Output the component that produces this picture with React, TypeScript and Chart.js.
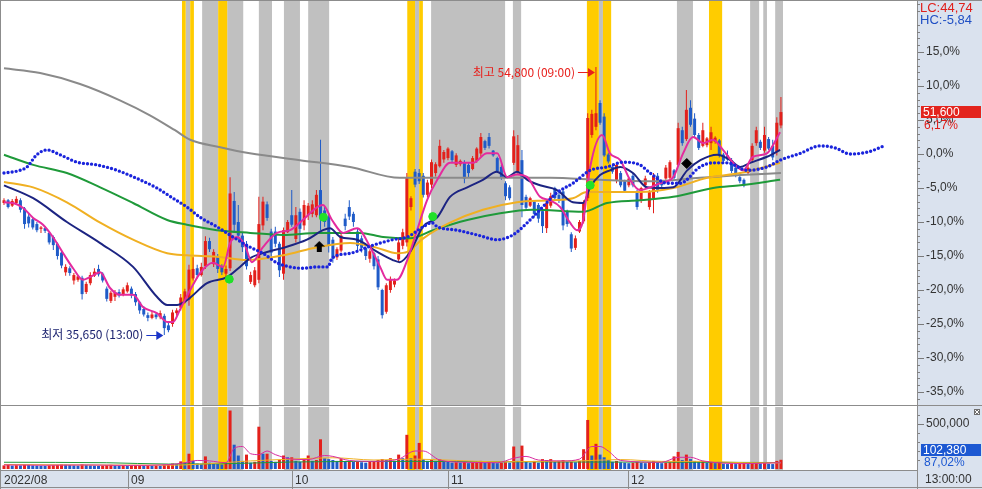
import React, { useEffect, useRef } from 'react';
import { Chart, registerables } from 'chart.js';

Chart.register(...registerables);

// ---------- DATA ----------
// candles: [open, high, low, close] in % versus the base price
const candles: number[][] = [
  [-7.2, -6.5, -7.5, -6.8], [-6.8, -6.6, -8.0, -7.8], [-7.6, -6.6, -7.8, -6.9], [-7.2, -6.2, -7.4, -6.6],
  [-6.8, -6.5, -8.6, -8.2], [-8.0, -7.8, -11.0, -10.3], [-9.2, -8.8, -10.8, -10.2], [-9.6, -9.3, -11.1, -10.8],
  [-10.3, -10.0, -11.5, -11.2], [-11.0, -10.6, -11.6, -10.8], [-10.9, -10.6, -11.6, -11.3], [-11.6, -11.4, -13.3, -13.0],
  [-12.2, -12.0, -14.1, -13.4], [-13.2, -13.0, -15.5, -15.0], [-14.5, -14.2, -16.8, -16.4], [-17.4, -16.2, -17.9, -16.6],
  [-16.8, -16.5, -17.9, -17.5], [-18.6, -17.5, -19.2, -17.8], [-18.5, -17.8, -18.8, -18.0], [-18.2, -17.9, -21.4, -20.6],
  [-20.3, -18.8, -20.6, -19.1], [-19.0, -17.4, -19.3, -17.8], [-17.9, -16.8, -18.1, -17.3], [-16.9, -16.3, -18.0, -17.7],
  [-17.6, -17.4, -18.9, -18.6], [-19.8, -19.5, -21.7, -21.3], [-21.6, -20.1, -21.9, -20.4], [-21.0, -20.0, -21.6, -20.3],
  [-20.3, -19.9, -21.1, -20.8], [-20.6, -19.6, -20.9, -19.9], [-20.2, -18.9, -20.4, -19.3], [-19.8, -19.5, -21.2, -20.8],
  [-20.6, -20.3, -22.3, -21.8], [-21.8, -21.6, -23.5, -23.0], [-22.8, -22.4, -23.9, -23.6], [-23.7, -23.3, -24.6, -24.1],
  [-24.1, -23.1, -24.3, -23.6], [-23.6, -23.3, -24.3, -24.0], [-24.0, -23.0, -24.3, -23.4], [-23.8, -23.5, -26.6, -25.6],
  [-25.2, -24.8, -26.2, -25.9], [-25.0, -22.9, -25.4, -23.3], [-23.4, -22.7, -23.8, -23.0], [-22.6, -20.6, -23.0, -21.1],
  [-21.8, -19.8, -22.0, -20.2], [-21.4, -16.3, -22.3, -17.0], [-18.3, -15.2, -18.6, -16.9], [-16.8, -16.3, -18.3, -17.8],
  [-17.8, -16.0, -18.0, -16.6], [-16.5, -12.1, -16.9, -12.8], [-12.8, -12.3, -14.4, -14.0], [-16.2, -14.0, -16.6, -14.4],
  [-15.0, -14.7, -17.5, -16.9], [-16.6, -16.2, -17.8, -17.4], [-17.6, -16.4, -18.1, -16.9], [-16.8, -3.4, -17.2, -5.8],
  [-6.9, -5.6, -11.4, -10.4], [-10.0, -7.5, -12.6, -12.0], [-12.0, -11.6, -14.4, -13.7], [-13.5, -12.8, -17.0, -16.5],
  [-18.8, -17.3, -19.1, -17.8], [-19.3, -16.6, -19.6, -17.1], [-18.5, -6.3, -19.0, -10.3], [-10.5, -6.3, -11.2, -7.0],
  [-7.4, -7.0, -9.8, -9.4], [-11.4, -11.0, -15.1, -14.5], [-11.4, -10.7, -13.7, -13.2], [-13.2, -12.9, -18.1, -17.1],
  [-17.6, -10.8, -18.5, -11.2], [-11.5, -9.7, -11.6, -10.0], [-9.0, -5.3, -10.7, -10.4], [-12.5, -7.8, -13.0, -9.0],
  [-8.5, -8.0, -13.0, -11.0], [-10.5, -6.8, -11.2, -7.5], [-9.0, -7.2, -9.7, -7.6], [-8.8, -6.8, -9.3, -7.4],
  [-9.0, -5.3, -9.3, -6.0], [-5.3, 2.1, -11.2, -9.2], [-8.3, -7.8, -10.7, -10.0], [-9.2, -8.7, -14.5, -13.5],
  [-12.6, -12.2, -16.0, -15.4], [-15.2, -13.7, -15.6, -14.0], [-14.2, -11.6, -14.5, -12.0], [-9.5, -8.8, -11.2, -10.6],
  [-7.8, -6.8, -9.7, -9.2], [-8.8, -8.5, -10.7, -10.0], [-11.4, -11.0, -14.4, -13.5], [-12.4, -12.0, -14.5, -13.8],
  [-13.8, -13.6, -15.6, -15.0], [-15.4, -14.0, -16.0, -14.3], [-14.6, -14.4, -17.0, -16.5], [-15.5, -15.0, -20.0, -19.6],
  [-20.0, -19.8, -24.2, -23.7], [-23.2, -19.0, -23.5, -19.3], [-20.0, -18.0, -20.4, -18.5], [-19.2, -18.3, -19.6, -18.6],
  [-15.5, -12.5, -15.8, -13.0], [-13.5, -11.0, -14.0, -11.5], [-13.0, -2.8, -13.6, -3.5], [-7.8, -6.2, -8.3, -6.5],
  [-2.6, -2.2, -4.9, -4.5], [-2.8, -2.2, -4.4, -4.0], [-3.2, -2.8, -6.4, -6.0], [-6.0, -3.8, -6.4, -4.2],
  [-4.5, -0.8, -5.0, -1.2], [-2.8, -1.2, -3.3, -1.5], [-1.8, 2.1, -2.0, 1.2], [-0.8, 0.6, -1.3, 0.3],
  [-0.6, 1.0, -0.9, 0.8], [0.4, 0.6, -1.3, -0.9], [-1.6, 0.1, -1.9, -0.2], [-1.5, -0.8, -1.8, -1.0],
  [-1.2, -0.9, -4.3, -3.6], [-1.6, -1.3, -3.4, -2.8], [-2.2, -0.3, -2.4, -0.6], [-1.0, 1.0, -1.3, 0.8],
  [0.0, 3.1, -0.4, 2.5], [1.9, 2.1, 0.6, 0.9], [2.5, 3.1, 0.8, 1.2], [0.5, 0.6, -0.4, -0.2],
  [-0.6, -0.4, -2.8, -2.5], [-1.9, -1.6, -3.8, -3.4], [-4.3, -4.0, -6.8, -6.2], [-4.9, -4.6, -6.8, -6.5],
  [-1.3, 3.5, -1.6, 2.6], [-2.6, 2.8, -2.9, 1.3], [-0.9, 0.6, -9.3, -7.5], [-6.3, -6.0, -8.2, -7.9],
  [-7.6, -6.3, -7.8, -6.5], [-7.0, -6.8, -9.3, -8.8], [-7.5, -7.2, -10.1, -9.5], [-8.4, -8.2, -11.6, -10.6],
  [-10.9, -6.8, -11.6, -7.2], [-7.6, -5.7, -7.9, -6.2], [-5.0, -4.8, -6.8, -6.5], [-6.0, -5.7, -7.2, -6.9],
  [-5.5, -5.3, -11.2, -10.5], [-8.5, -8.2, -10.7, -10.3], [-11.8, -11.5, -14.4, -13.9], [-13.8, -12.0, -14.1, -12.4],
  [-11.4, -9.7, -11.6, -10.0], [-9.9, -6.8, -10.2, -7.2], [-6.5, 6.0, -6.9, 5.3], [2.8, 6.5, 2.4, 5.9],
  [4.0, 12.8, 3.5, 6.0], [7.5, 7.9, 4.3, 4.6], [5.5, 6.0, -0.4, -0.2], [0.0, 0.2, -1.4, -1.1],
  [-1.9, -1.6, -2.9, -2.6], [-3.8, -1.3, -4.3, -1.6], [-2.8, -2.5, -4.9, -4.6], [-4.0, -3.8, -5.7, -5.4],
  [-4.6, -3.4, -4.9, -3.6], [-3.2, -2.8, -4.9, -4.6], [-5.5, -5.3, -8.2, -7.8], [-6.8, -4.8, -7.2, -5.0],
  [-4.6, -3.2, -4.9, -3.6], [-7.8, -5.3, -8.2, -5.6], [-6.5, -2.8, -8.7, -3.2], [-3.2, -2.8, -5.7, -5.4],
  [-4.0, -3.8, -4.9, -4.6], [-3.6, -1.6, -3.8, -2.0], [-3.5, -0.9, -3.8, -1.2], [-2.4, -2.2, -3.8, -3.5],
  [-1.6, 4.6, -1.9, 3.8], [3.5, 4.0, 1.2, 1.6], [2.2, 9.4, 1.9, 6.5], [6.8, 7.9, 4.0, 4.3],
  [5.2, 6.0, 2.5, 2.8], [2.8, 3.1, 0.6, 0.9], [1.2, 4.6, 1.0, 3.5], [1.3, 2.5, 1.0, 2.3],
  [1.6, 4.0, 0.6, 3.2], [1.8, 2.6, 1.5, 2.4], [2.0, 2.2, -0.5, -0.2], [0.0, 0.2, -1.3, -1.0],
  [-0.2, 0.5, -1.0, -0.8], [-0.9, -0.6, -2.8, -2.5], [-2.0, -1.7, -3.4, -3.0], [-3.4, -3.1, -4.3, -4.0],
  [-3.8, -3.6, -4.9, -4.6], [-2.8, -1.6, -3.0, -2.0], [-0.9, 1.6, -1.2, 1.2], [1.6, 4.0, 1.2, 3.5],
  [1.8, 2.1, 0.6, 0.9], [0.5, 4.0, 0.2, 2.8], [2.2, 2.5, 0.6, 0.8], [1.2, 2.1, -0.9, -0.5],
  [0.3, 5.4, -0.2, 4.6], [4.2, 8.4, 3.8, 6.17],
];

// volume in thousands of shares
const volumes: number[] = [
  40, 45, 38, 42, 40, 48, 44, 40, 38, 36, 35, 40, 42, 45, 50, 48, 44, 40, 38, 52, 46, 40, 36, 34, 38, 44, 46, 40, 36, 38,
  36, 40, 42, 44, 38, 40, 36, 38, 35, 48, 52, 60, 55, 85, 70,
  170, 90, 60, 55,
  140, 70, 60, 55, 50, 65,
  650, 270, 150, 90, 160,
  70, 80, 470, 170, 170, 90, 80, 100,
  150, 130, 130, 90, 80, 110, 150, 90, 100, 330,
  120, 110, 100, 90, 110, 80, 90, 80, 80, 75, 70, 80, 85, 100, 110, 100, 120, 90, 160, 120,
  380, 120, 150, 290,
  110, 90, 100, 80, 110, 90, 80, 70, 75, 70, 80, 65, 70, 75, 90, 70, 80, 70, 65, 70, 75, 70,
  250, 90, 260,
  80, 70, 90, 70, 110, 100, 110, 80, 90, 100, 80, 80, 75, 90,
  220, 545,
  150, 280, 160, 130, 100, 80, 90, 75, 70, 65, 70, 80, 70, 65, 75, 90, 70, 65, 70, 75, 140,
  190, 100, 160, 110, 90, 80, 90, 70, 75, 65, 70, 60, 55, 60, 55, 60, 65, 55, 70, 75, 60, 70, 60, 55, 90, 102.38,
];

// moving averages, [candle index, %]
const grayMA: number[][] = [[0, 12.6], [8.8, 11.9], [18.5, 10.3], [28.2, 7.9], [35.5, 5.7], [41.6, 3.5], [45.3, 2.1], [52.6, 1.0], [59.8, 0.1], [72, -0.9], [84.2, -1.9], [96.3, -3.5], [108.5, -3.5], [120.7, -3.5], [132.8, -3.5], [145, -3.8], [157.2, -4.0], [169.3, -3.5], [179.1, -3.1], [189, -2.8]];
const greenMA: number[][] = [[0, -0.1], [7.1, -1.6], [15.3, -2.8], [23.4, -4.9], [31.4, -7.2], [39.7, -9.7], [44.5, -10.4], [51.8, -11.2], [59.9, -11.6], [67.9, -11.9], [76.2, -11.6], [86.6, -11.6], [92.2, -12.2], [98.8, -12.4], [104.4, -11.2], [112.7, -9.7], [120.7, -8.7], [128.7, -8.2], [140.9, -8.5], [146.7, -7.2], [154.7, -6.8], [162.8, -6.3], [172.5, -5.0], [179.1, -4.6], [188.8, -3.8]];
const orangeMA: number[][] = [[0, -4.1], [7.1, -4.9], [15.3, -7.1], [23.4, -10.1], [31.4, -12.6], [39.7, -14.6], [44.5, -14.9], [51.8, -15.1], [59.1, -15.6], [67.9, -14.9], [76.2, -13.7], [84.2, -13.1], [90.8, -13.8], [95.6, -14.6], [98.1, -14.4], [102, -12.4], [108.5, -10.1], [116.5, -8.2], [124.8, -7.1], [132.8, -6.8], [138.4, -6.5], [141.8, -5.6], [154.7, -5.6], [162.8, -5.0], [171.1, -3.5], [179.1, -2.8], [188.8, -1.3]];
const navyMA: number[][] = [[0, -4.6], [7.1, -6.5], [15.3, -10.0], [23.4, -13.1], [31.4, -16.6], [37.2, -21.0], [39.7, -22.2], [42.1, -22.2], [44.5, -21.5], [49.4, -19.0], [54.3, -18.1], [57.4, -16.6], [59.9, -15.3], [64, -14.4], [67.9, -13.8], [73.7, -12.6], [77.6, -11.2], [79.3, -10.9], [81.8, -12.2], [85.9, -12.6], [90.8, -14.4], [94.6, -15.6], [96.3, -15.9], [98.8, -14.4], [101.9, -10.7], [105.4, -9.3], [108.5, -6.3], [112.7, -4.9], [116.5, -3.8], [119.9, -2.6], [122.4, -3.4], [124.8, -2.6], [127.3, -3.8], [130.4, -4.6], [134.5, -5.3], [138.4, -7.1], [140.9, -7.2], [142.6, -4.9], [145, -3.1], [147.4, -2.4], [149.9, -1.9], [153, -2.8], [156.4, -4.9], [159.6, -5.0], [162.8, -4.9], [166.2, -2.4], [169.4, -0.9], [173.5, -0.1], [176.7, -0.9], [179.1, -1.9], [181.5, -1.3], [185.6, -0.4], [188.8, 0.6]];
const pinkMA: number[][] = [[0, -7.1], [2.2, -7.2], [4.6, -7.9], [7.1, -9.4], [9.5, -10.4], [11.9, -12.2], [14.4, -14.6], [16.8, -16.8], [19.2, -18.5], [20.9, -18.1], [23.4, -17.4], [25.8, -19.7], [28.2, -20.7], [31.4, -20.7], [33.8, -22.5], [37.2, -23.4], [39.7, -24.7], [41.1, -24.7], [42.8, -22.9], [45.3, -20.0], [47.7, -17.5], [50.8, -16.0], [53.3, -16.6], [55, -13.1], [56.7, -12.2], [58.6, -13.4], [60.3, -15.9], [63, -13.7], [66.4, -11.6], [69.6, -11.2], [72.7, -9.7], [76.2, -7.8], [77.6, -7.5], [79.8, -9.7], [82.5, -11.6], [85.9, -10.9], [89.1, -13.7], [91.5, -16.6], [93.2, -18.5], [95.6, -18.5], [98.1, -15.6], [100.5, -11.2], [102.9, -6.8], [105.4, -3.8], [108.5, -1.3], [111.7, -1.3], [114.1, -1.3], [117.5, 0.1], [120, 0.1], [122.4, -3.4], [124.8, -3.0], [127.3, -3.4], [130.4, -6.3], [132.8, -6.8], [135.3, -7.8], [137.7, -10.1], [139.4, -11.2], [140.9, -9.7], [142.6, -1.9], [145.5, 2.8], [147.4, 0.1], [149.9, -0.9], [152.3, -3.8], [154.7, -5.3], [157.2, -4.9], [159.6, -4.3], [162.8, -3.4], [165.2, 0.1], [167.6, 2.5], [170.1, 1.6], [172.5, 2.1], [174.9, 0.6], [177.4, -1.3], [179.8, -2.4], [182.2, -0.4], [185.6, 0.1], [188.8, 3.2]];
const leadingSpan: number[][] = [[0, -2.8], [3.9, -2.4], [5.6, -1.9], [8, -0.1], [10.5, 0.6], [13.6, -0.1], [17.8, -1.2], [22.6, -1.6], [27.5, -2.4], [33.1, -3.8], [37.2, -5.0], [41.1, -6.5], [44.5, -7.8], [47.7, -9.3], [51.8, -10.7], [55.7, -12.2], [59.9, -13.7], [63, -14.6], [66.4, -16.0], [69.6, -16.6], [72.7, -16.8], [76.2, -16.6], [78.8, -16.6], [79.8, -15.3], [84.2, -14.6], [89.8, -13.4], [94.6, -12.6], [98.1, -12.2], [102, -10.7], [104.1, -10.1], [105.4, -10.7], [110.2, -11.2], [115.1, -11.9], [120, -12.6], [123.8, -11.9], [127.3, -10.1], [130.4, -8.2], [134.5, -5.7], [138.4, -4.3], [142.6, -2.4], [146.7, -1.9], [150.6, -1.2], [154.7, -1.6], [157.2, -2.8], [161.3, -4.3], [164.5, -4.3], [169.3, -1.9], [172.5, -1.3], [175.9, -1.3], [180.8, -2.4], [185.6, -1.9], [188.8, -0.9], [193.7, 0.1], [198.5, 1.2], [202.2, 0.9], [205.8, 0.0], [210.2, 0.3], [214.1, 1.2]];

// volume averages, [candle index, thousands]
const volPinkMA: number[][] = [[0, 45], [10, 42], [20, 45], [30, 40], [40, 48], [44, 70], [47, 95], [50, 90], [54, 70], [56, 230], [58, 250], [60, 170], [62, 160], [64, 200], [66, 160], [70, 110], [74, 105], [78, 150], [80, 140], [84, 95], [90, 85], [96, 110], [100, 200], [102, 200], [106, 100], [112, 75], [120, 70], [124, 120], [127, 140], [130, 100], [136, 90], [140, 110], [143, 250], [145, 250], [147, 200], [150, 95], [160, 75], [164, 130], [167, 130], [170, 90], [180, 60], [189, 70]];
const volOrangeMA: number[][] = [[0, 50], [20, 45], [40, 42], [50, 60], [60, 90], [70, 110], [80, 125], [90, 100], [100, 110], [110, 95], [120, 80], [130, 85], [140, 90], [150, 105], [160, 85], [170, 85], [180, 70], [189, 68]];
const volGreenMA: number[][] = [[0, 75], [25, 70], [40, 55], [55, 60], [70, 78], [100, 85], [120, 80], [140, 78], [160, 76], [189, 72]];

// signal markers [candle index, %]
const greenSignals: number[][] = [[54.8, -18.4], [77.7, -9.3], [104.3, -9.2], [142.6, -4.6]];
const buySignals: number[][] = [[76.7, -13.6]];
const holdSignals: number[][] = [[166.1, -1.4]];

// highlighted periods, [from index, to index]
const grayBands: number[][] = [[44.2, 45.3], [48.2, 52.1], [54.3, 58.2], [62.0, 65.2], [68.1, 72.0], [74.0, 79.1], [100.0, 101.0], [103.9, 121.9], [123.8, 125.8], [144.7, 145.7], [163.7, 167.6], [181.5, 183.7], [184.7, 185.6], [187.6, 189.5]];
const goldBands: number[][] = [[43.3, 44.2], [45.3, 46.2], [52.1, 54.3], [98.1, 100.0], [101.0, 101.9], [141.8, 144.7], [145.7, 147.7], [171.5, 174.7]];

const monthTicks = [-0.73, 30.17, 70.07, 108.03, 151.82];
const monthLabels = ['2022/08', '09', '10', '11', '12'];
const pctTicks = [-35, -30, -25, -20, -15, -10, -5, 0, 5, 10, 15];
const volTicks = [500];

const basePrice = 48600;
const lcLabel = 'LC:44,74';
const hcLabel = 'HC:-5,84';
const highLabel = '최고 54,800 (09:00)';
const lowLabel = '최저 35,650 (13:00)';
const volRatioLabel = '87,02%';
const lastTimeLabel = '13:00:00';

// ---------- STYLE ----------
const X_MIN = -0.97;
const X_MAX = 222.1;
const Y_MIN = -36.91;
const Y_MAX = 22.65;
const V_MIN = -11;
const V_MAX = 689;
const AXIS_BG = '#dae2ee';
const FRAME = '#8c8c8c';
const UP = '#e3201b';
const DOWN = '#1f5bc8';
const FONT = "'Liberation Sans', Arial, sans-serif";
const KFONT = "'Noto Sans CJK KR', 'Noto Sans', sans-serif";

const fmtComma = (n: number) => Math.round(n).toLocaleString('en-US');
const pts = (a: number[][]) => a.map(([x, y]) => ({ x, y }));

function makeArrowGlyph(): HTMLCanvasElement {
  const c = document.createElement('canvas');
  c.width = 11;
  c.height = 11;
  const g = c.getContext('2d') as CanvasRenderingContext2D;
  g.fillStyle = '#000000';
  g.beginPath();
  g.moveTo(5.5, 0);
  g.lineTo(11, 5.5);
  g.lineTo(8, 5.5);
  g.lineTo(8, 11);
  g.lineTo(3, 11);
  g.lineTo(3, 5.5);
  g.lineTo(0, 5.5);
  g.closePath();
  g.fill();
  return c;
}

function paintBackground(chart: any) {
  const { ctx, chartArea: a, width, height } = chart;
  ctx.save();
  ctx.fillStyle = AXIS_BG;
  ctx.fillRect(0, 0, width, height);
  ctx.fillStyle = '#ffffff';
  ctx.fillRect(a.left, a.top, a.right - a.left, a.bottom - a.top);
  ctx.restore();
}

function paintBands(chart: any) {
  const { ctx, chartArea: a, scales } = chart;
  const x = scales.x;
  ctx.save();
  ctx.beginPath();
  ctx.rect(a.left, a.top, a.right - a.left, a.bottom - a.top);
  ctx.clip();
  const paint = (bands: number[][], color: string) => {
    ctx.fillStyle = color;
    for (const [s, e] of bands) {
      const x0 = x.getPixelForValue(s);
      const x1 = x.getPixelForValue(e);
      ctx.fillRect(x0, a.top, x1 - x0, a.bottom - a.top);
    }
  };
  paint(grayBands, '#c0c0c0');
  paint(goldBands, '#ffcc00');
  ctx.restore();
}

function pointer(ctx: any, xc: number, yc: number, text: string, textColor: string, arrowColor: string) {
  ctx.save();
  ctx.font = `12px ${KFONT}`;
  ctx.textAlign = 'right';
  ctx.textBaseline = 'middle';
  ctx.fillStyle = textColor;
  ctx.fillText(text, xc - 21, yc);
  ctx.strokeStyle = arrowColor;
  ctx.fillStyle = arrowColor;
  ctx.lineWidth = 1;
  ctx.beginPath();
  ctx.moveTo(xc - 18, Math.round(yc) + 0.5);
  ctx.lineTo(xc - 6, Math.round(yc) + 0.5);
  ctx.stroke();
  ctx.beginPath();
  ctx.moveTo(xc - 1, Math.round(yc) + 0.5);
  ctx.lineTo(xc - 8, Math.round(yc) - 4);
  ctx.lineTo(xc - 8, Math.round(yc) + 5);
  ctx.closePath();
  ctx.fill();
  ctx.restore();
}

const pricePanel = {
  id: 'pricePanel',
  beforeDraw: paintBackground,
  beforeDatasetsDraw: paintBands,
  afterDraw(chart: any) {
    const { ctx, chartArea: a, scales, width } = chart;
    const x = scales.x;
    const y = scales.y;
    ctx.save();
    ctx.strokeStyle = '#808080';
    ctx.lineWidth = 1;
    ctx.beginPath();
    for (let v = -36; v <= 22; v++) {
      if (v % 5 === 0) continue;
      const py = Math.round(y.getPixelForValue(v)) + 0.5;
      ctx.moveTo(a.right, py);
      ctx.lineTo(a.right + 3, py);
    }
    ctx.stroke();
    ctx.strokeStyle = FRAME;
    ctx.beginPath();
    ctx.moveTo(0, 0.5);
    ctx.lineTo(width, 0.5);
    ctx.moveTo(0.5, 0);
    ctx.lineTo(0.5, a.bottom);
    ctx.stroke();

    ctx.textAlign = 'left';
    ctx.textBaseline = 'middle';
    ctx.font = `13px ${FONT}`;
    ctx.fillStyle = '#e0201c';
    ctx.fillText(lcLabel, a.right + 3, 8);
    ctx.fillStyle = '#1f4fc4';
    ctx.fillText(hcLabel, a.right + 3, 20);

    const last = candles[candles.length - 1];
    const ly = Math.round(y.getPixelForValue(last[3]));
    const price = Math.round((basePrice * (1 + last[3] / 100)) / 50) * 50;
    ctx.fillStyle = '#e3241d';
    ctx.fillRect(a.right + 4, ly - 6, width - a.right - 5, 12);
    ctx.font = `12px ${FONT}`;
    ctx.fillStyle = '#ffffff';
    ctx.fillText(fmtComma(price), a.right + 6, ly + 0.5);
    ctx.fillStyle = '#e0201c';
    ctx.fillText(last[3].toFixed(2).replace('.', ',') + '%', a.right + 7, ly + 13.5);

    let hi = 0;
    let lo = 0;
    candles.forEach((c, i) => {
      if (c[1] > candles[hi][1]) hi = i;
      if (c[2] < candles[lo][2]) lo = i;
    });
    pointer(ctx, x.getPixelForValue(hi), y.getPixelForValue(candles[hi][1]) + 5, highLabel, '#e8201c', '#e8201c');
    pointer(ctx, x.getPixelForValue(lo), y.getPixelForValue(candles[lo][2]), lowLabel, '#1d2470', '#1a34c8');
    ctx.restore();
  },
};

const volumePanel = {
  id: 'volumePanel',
  beforeDraw(chart: any) {
    paintBackground(chart);
    const { ctx, width } = chart;
    ctx.save();
    ctx.fillStyle = '#ffffff';
    ctx.fillRect(0, 1, chart.chartArea.right, 2);
    ctx.fillStyle = FRAME;
    ctx.fillRect(0, 0, width, 1);
    ctx.restore();
  },
  beforeDatasetsDraw: paintBands,
  afterDraw(chart: any) {
    const { ctx, chartArea: a, scales, width, height } = chart;
    const y = scales.y;
    ctx.save();
    ctx.strokeStyle = '#808080';
    ctx.lineWidth = 1;
    ctx.beginPath();
    for (let v = 100; v <= 600; v += 100) {
      if (v === 500) continue;
      const py = Math.round(y.getPixelForValue(v)) + 0.5;
      ctx.moveTo(a.right, py);
      ctx.lineTo(a.right + 3, py);
    }
    ctx.stroke();
    ctx.strokeStyle = FRAME;
    ctx.beginPath();
    ctx.moveTo(a.right + 0.5, 0);
    ctx.lineTo(a.right + 0.5, height);
    ctx.moveTo(0.5, 0);
    ctx.lineTo(0.5, height);
    ctx.moveTo(0, height - 1.5);
    ctx.lineTo(width, height - 1.5);
    ctx.stroke();

    const lastVol = volumes[volumes.length - 1];
    const vy = Math.round(y.getPixelForValue(lastVol)) - 10;
    ctx.fillStyle = '#1c58d2';
    ctx.fillRect(a.right + 4, vy - 6, width - a.right - 5, 12);
    ctx.font = `12px ${FONT}`;
    ctx.textAlign = 'left';
    ctx.textBaseline = 'middle';
    ctx.fillStyle = '#ffffff';
    ctx.fillText(fmtComma(lastVol * 1000), a.right + 6, vy + 0.5);
    ctx.fillStyle = '#1c58d2';
    ctx.fillText(volRatioLabel, a.right + 7, vy + 12.5);
    ctx.fillStyle = '#333333';
    ctx.fillText(lastTimeLabel, a.right + 8, a.bottom + 10);

    ctx.fillStyle = '#6f6f6f';
    ctx.fillRect(width - 8, 4, 6, 6);
    ctx.strokeStyle = '#ffffff';
    ctx.beginPath();
    ctx.moveTo(width - 7, 5);
    ctx.lineTo(width - 3, 9);
    ctx.moveTo(width - 3, 5);
    ctx.lineTo(width - 7, 9);
    ctx.stroke();
    ctx.restore();
  },
};

const tickFont = { family: FONT, size: 12 };

function buildPriceConfig(): any {
  const colors = candles.map((c) => (c[3] >= c[0] ? UP : DOWN));
  const line = (data: number[][], color: string, order: number, width = 2) => ({
    type: 'line',
    data: pts(data),
    borderColor: color,
    borderWidth: width,
    pointRadius: 0,
    cubicInterpolationMode: 'monotone',
    order,
  });
  return {
    type: 'bar',
    data: {
      datasets: [
        {
          type: 'bar',
          data: candles.map((c, i) => ({ x: i, y: [c[2], c[1]] })),
          backgroundColor: colors,
          barThickness: 1,
          grouped: false,
          inflateAmount: 0,
          borderWidth: 0,
          order: 20,
        },
        {
          type: 'bar',
          data: candles.map((c, i) => ({ x: i, y: [c[0], c[3]] })),
          backgroundColor: colors,
          barThickness: 3,
          grouped: false,
          minBarLength: 1,
          inflateAmount: 0,
          borderWidth: 0,
          order: 19,
        },
        line(grayMA, '#8a8a8a', 9),
        line(greenMA, '#1f9a3a', 8),
        line(orangeMA, '#f0b022', 7),
        line(navyMA, '#1c2482', 6),
        line(pinkMA, '#e42b9e', 5),
        {
          type: 'line',
          data: pts(leadingSpan),
          borderColor: '#1a24dc',
          borderWidth: 3.4,
          borderDash: [0, 4.1],
          borderCapStyle: 'round',
          pointRadius: 0,
          cubicInterpolationMode: 'monotone',
          order: 4,
        },
        {
          type: 'line',
          data: pts(greenSignals),
          showLine: false,
          pointStyle: 'circle',
          pointRadius: 4,
          pointBackgroundColor: '#22e02a',
          pointBorderColor: '#22e02a',
          order: 2,
        },
        {
          type: 'line',
          data: pts(buySignals),
          showLine: false,
          pointStyle: makeArrowGlyph(),
          pointRadius: 5,
          order: 1,
        },
        {
          type: 'line',
          data: pts(holdSignals),
          showLine: false,
          pointStyle: 'rectRot',
          pointRadius: 5,
          pointBackgroundColor: '#000000',
          pointBorderColor: '#000000',
          order: 0,
        },
      ],
    },
    options: {
      animation: false,
      responsive: false,
      maintainAspectRatio: false,
      events: [],
      layout: { padding: 0, autoPadding: false },
      plugins: { legend: { display: false }, tooltip: { enabled: false } },
      scales: {
        x: { type: 'linear', min: X_MIN, max: X_MAX, offset: false, display: false, grid: { offset: false } },
        y: {
          type: 'linear',
          position: 'right',
          min: Y_MIN,
          max: Y_MAX,
          afterBuildTicks: (s: any) => {
            s.ticks = pctTicks.map((value) => ({ value }));
          },
          afterFit: (s: any) => {
            s.width = 65;
            s.paddingTop = 0;
            s.paddingBottom = 0;
          },
          grid: { display: true, drawOnChartArea: false, drawTicks: true, tickLength: 7, color: '#7a7a7a' },
          border: { display: true, color: FRAME },
          ticks: {
            padding: 2,
            color: '#333333',
            font: tickFont,
            autoSkip: false,
            callback: (v: number) => v.toFixed(1).replace('.', ',') + '%',
          },
        },
      },
    },
    plugins: [pricePanel],
  };
}

function buildVolumeConfig(): any {
  const colors = volumes.map((v, i) => (i === 0 || v >= volumes[i - 1] ? UP : DOWN));
  const line = (data: number[][], color: string, order: number) => ({
    type: 'line',
    data: pts(data),
    borderColor: color,
    borderWidth: 1,
    pointRadius: 0,
    cubicInterpolationMode: 'monotone',
    order,
  });
  return {
    type: 'bar',
    data: {
      datasets: [
        {
          type: 'bar',
          data: volumes.map((v, i) => ({ x: i, y: v })),
          backgroundColor: colors,
          barThickness: 3,
          inflateAmount: 0,
          borderWidth: 0,
          order: 10,
        },
        line(volGreenMA, '#1f9a3a', 3),
        line(volOrangeMA, '#f0b022', 2),
        line(volPinkMA, '#d92ba0', 1),
      ],
    },
    options: {
      animation: false,
      responsive: false,
      maintainAspectRatio: false,
      events: [],
      layout: { padding: { top: 2, left: 0, right: 0, bottom: 0 }, autoPadding: false },
      plugins: { legend: { display: false }, tooltip: { enabled: false } },
      scales: {
        x: {
          type: 'linear',
          position: 'bottom',
          min: X_MIN,
          max: X_MAX,
          offset: false,
          afterBuildTicks: (s: any) => {
            s.ticks = monthTicks.map((value) => ({ value }));
          },
          afterFit: (s: any) => {
            s.height = 19;
            s.paddingLeft = 0;
            s.paddingRight = 0;
          },
          grid: { display: true, offset: false, drawOnChartArea: false, drawTicks: true, tickLength: 19, color: FRAME },
          border: { display: true, color: FRAME },
          ticks: {
            autoSkip: false,
            maxRotation: 0,
            minRotation: 0,
            align: 'start',
            padding: -16,
            labelOffset: 3,
            color: '#333333',
            font: tickFont,
            callback: (_v: number, idx: number) => monthLabels[idx],
          },
        },
        y: {
          type: 'linear',
          position: 'right',
          min: V_MIN,
          max: V_MAX,
          afterBuildTicks: (s: any) => {
            s.ticks = volTicks.map((value) => ({ value }));
          },
          afterFit: (s: any) => {
            s.width = 65;
            s.paddingTop = 0;
            s.paddingBottom = 0;
          },
          grid: { display: true, drawOnChartArea: false, drawTicks: true, tickLength: 7, color: '#7a7a7a' },
          border: { display: true, color: FRAME },
          ticks: {
            padding: 2,
            color: '#333333',
            font: tickFont,
            autoSkip: false,
            callback: (v: number) => fmtComma(v * 1000),
          },
        },
      },
    },
    plugins: [volumePanel],
  };
}

export default function App() {
  const topRef = useRef<HTMLCanvasElement>(null);
  const bottomRef = useRef<HTMLCanvasElement>(null);

  useEffect(() => {
    document.body.style.margin = '0';
    const top = new Chart(topRef.current as HTMLCanvasElement, buildPriceConfig());
    const bottom = new Chart(bottomRef.current as HTMLCanvasElement, buildVolumeConfig());
    return () => {
      top.destroy();
      bottom.destroy();
    };
  }, []);

  return (
    <div style={{ position: 'relative', width: 982, height: 489, overflow: 'hidden', background: '#ffffff' }}>
      <canvas ref={topRef} width={982} height={405} style={{ position: 'absolute', left: 0, top: 0, width: 982, height: 405 }} />
      <canvas ref={bottomRef} width={982} height={84} style={{ position: 'absolute', left: 0, top: 405, width: 982, height: 84 }} />
    </div>
  );
}
